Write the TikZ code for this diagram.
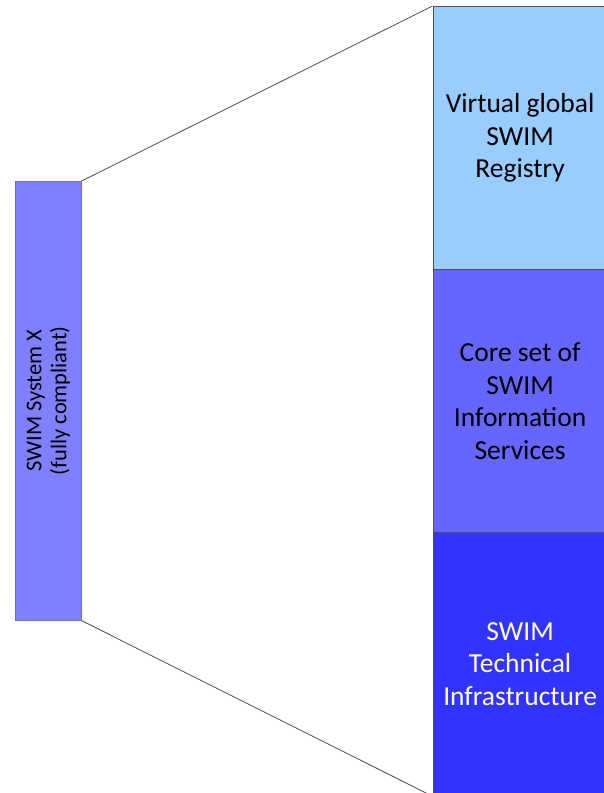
\documentclass[tikz,border=0pt]{standalone}
\usepackage{fontspec}
\setmainfont{Carlito}
\definecolor{regc}{HTML}{99CCFF}
\definecolor{corec}{HTML}{6666FF}
\definecolor{infc}{HTML}{3333FF}
\definecolor{barc}{HTML}{8080FF}
\definecolor{edgec}{HTML}{505050}
\begin{document}
\begin{tikzpicture}[x=1pt,y=-1pt,
  layer/.style={minimum width=174pt,minimum height=263pt,inner sep=0pt,draw=edgec,line width=1.2pt,align=center,
    font=\fontsize{27.5}{32.5}\selectfont,anchor=north west},
  barbox/.style={minimum width=66pt,minimum height=439pt,inner sep=0pt,draw=barc!85!black,line width=0.6pt,anchor=north west,fill=barc},
  fan/.style={draw=edgec,line width=0.8pt}]
\useasboundingbox (0,0) rectangle (603,793);
\node[barbox] (bar) at (15,181) {};
\node[rotate=90,align=center,font=\fontsize{22.5}{25}\selectfont] (bartext) at (bar.center) {SWIM System X\\(fully compliant)};
\node[layer,fill=regc] (reg) at (432.5,6) {Virtual global\\SWIM\\Registry};
\node[layer,fill=corec] (core) at (432.5,269) {Core set of\\SWIM\\Information\\Services};
\node[layer,fill=infc,text=white] (inf) at (432.5,532) {SWIM\\Technical\\Infrastructure};
\draw[fan] (bar.north east) -- (reg.north west);
\draw[fan] (bar.south east) -- (inf.south west);
\end{tikzpicture}
\end{document}
